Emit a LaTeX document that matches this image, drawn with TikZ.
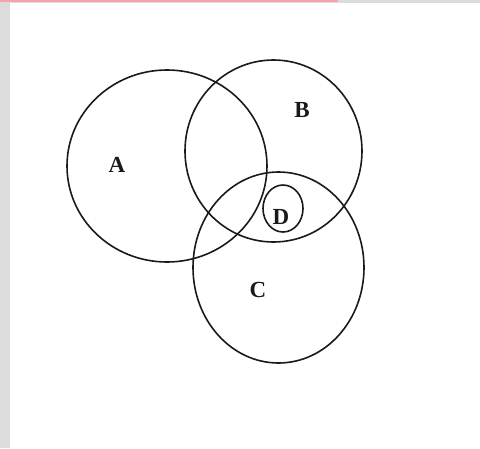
\documentclass[tikz,border=0pt]{standalone}
\usepackage{fontspec}
\setmainfont{Liberation Serif}
\usepackage{xcolor}
\usepackage{tikz}
\usetikzlibrary{positioning}
\definecolor{frame}{HTML}{DCDCDC}
\definecolor{pinkbar}{HTML}{F4A3AC}
\definecolor{ink}{HTML}{1A1A1A}

\tikzset{
  setline/.style={draw=ink,line width=1.6pt},
  setlabel/.style={font=\fontsize{23}{23}\selectfont\bfseries,text=ink,inner sep=0pt}
}

\begin{document}
\begin{tikzpicture}[x=1pt,y=-1pt]
  \useasboundingbox (0,0) rectangle (480,448);
  \fill[white] (0,0) rectangle (480,448);
  \fill[frame] (0,0) rectangle (10,448);
  \fill[frame] (0,0) rectangle (480,3);
  \fill[pinkbar] (0,0) rectangle (338,1.6);
  % the four sets
  \draw[setline] (167,166) ellipse [x radius=100,y radius=96];
  \draw[setline] (273.5,151) ellipse [x radius=88.5,y radius=91];
  \draw[setline] (278.5,267.5) ellipse [x radius=85.5,y radius=95.5];
  \draw[setline] (283,208.5) ellipse [x radius=20,y radius=23.5];
  \node[setlabel] (labA) at (117,165) {A};
  \node[setlabel] (labB) at (302,110) {B};
  \node[setlabel] (labC) at (258,290) {C};
  \node[setlabel] (labD) at (281,217) {D};
\end{tikzpicture}
\end{document}
